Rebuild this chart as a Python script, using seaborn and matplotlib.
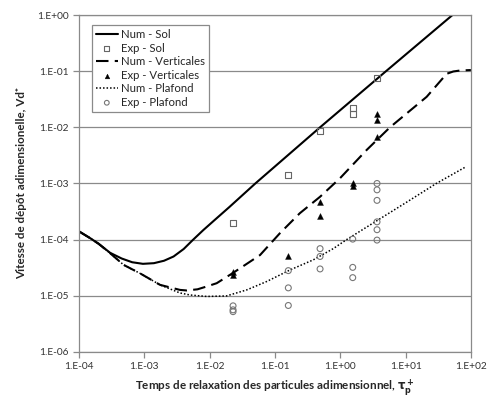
import matplotlib
matplotlib.use('Agg')
import matplotlib.pyplot as plt
import seaborn as sns

# courbes numériques
tau_sol = [1e-4, 1.5e-4, 2e-4, 3e-4, 4.5e-4, 6.5e-4, 9.5e-4, 1.4e-3, 2e-3, 2.8e-3,
           4e-3, 5.5e-3, 8e-3, 0.012, 0.02, 0.05, 0.489, 5.0, 52.0]
vd_sol = [1.4e-4, 1.05e-4, 8.4e-5, 5.8e-5, 4.6e-5, 3.95e-5, 3.7e-5, 3.8e-5, 4.2e-5, 5e-5,
          6.8e-5, 9.8e-5, 1.48e-4, 2.25e-4, 3.8e-4, 1e-3, 1e-2, 0.1, 1.0]

tau_vert = [1e-4, 1.5e-4, 2e-4, 3e-4, 4.8e-4, 8.6e-4, 1.74e-3, 3.5e-3, 4.45e-3, 6.5e-3,
            9e-3, 0.0128, 0.0228, 0.059, 0.119, 0.24, 0.49, 0.99, 2.53, 5.75,
            21.0, 42.5, 53.7, 68.0, 100.0]
vd_vert = [1.4e-4, 1.05e-4, 8.4e-5, 5.7e-5, 3.55e-5, 2.5e-5, 1.56e-5, 1.27e-5, 1.24e-5, 1.3e-5,
           1.46e-5, 1.67e-5, 2.55e-5, 5.3e-5, 1.3e-4, 2.95e-4, 5.8e-4, 1.24e-3, 3.95e-3, 1e-2,
           0.035, 0.09, 0.099, 0.103, 0.105]

tau_plaf = [1e-4, 1.5e-4, 2e-4, 3e-4, 4.8e-4, 8.6e-4, 1.74e-3, 3.5e-3, 5e-3, 9e-3,
            0.018, 0.037, 0.0746, 0.17, 0.385, 0.78, 1.25, 4.05, 10.4, 29.5, 81.0]
vd_plaf = [1.4e-4, 1.05e-4, 8.4e-5, 5.7e-5, 3.55e-5, 2.5e-5, 1.56e-5, 1.12e-5, 1.03e-5, 9.7e-6,
           9.9e-6, 1.27e-5, 1.79e-5, 2.88e-5, 4.35e-5, 6.9e-5, 1e-4, 2.35e-4, 4.65e-4, 1e-3, 1.94e-3]

# points expérimentaux
tau_exp_sol = [0.0228, 0.16, 0.49, 1.55, 1.55, 3.65]
vd_exp_sol = [2e-4, 1.42e-3, 8.7e-3, 0.0222, 0.0175, 0.0746]

tau_exp_vert = [0.0228, 0.0228, 0.16, 0.49, 0.49, 1.55, 1.55, 3.65, 3.65, 3.65]
vd_exp_vert = [2.3e-5, 2.6e-5, 5e-5, 4.6e-4, 2.6e-4, 1.0e-3, 9e-4, 0.0173, 0.0135, 6.8e-3]

tau_exp_plaf = [0.0228, 0.0228, 0.0228, 0.16, 0.16, 0.16, 0.49, 0.49, 0.49,
                1.55, 1.55, 1.55, 3.65, 3.65, 3.65, 3.65, 3.65, 3.65]
vd_exp_plaf = [6.6e-6, 5.6e-6, 5.2e-6, 2.8e-5, 1.38e-5, 6.7e-6, 6.9e-5, 5e-5, 3e-5,
               1.02e-4, 3.2e-5, 2.1e-5, 1e-3, 7.7e-4, 5e-4, 2.07e-4, 1.5e-4, 9.8e-5]

xticks = [1e-4, 1e-3, 1e-2, 1e-1, 1e0, 1e1, 1e2]
xlabels = ['1.E-04', '1.E-03', '1.E-02', '1.E-01', '1.E+00', '1.E+01', '1.E+02']
yticks = [1e-6, 1e-5, 1e-4, 1e-3, 1e-2, 1e-1, 1e0]
ylabels = ['1.E-06', '1.E-05', '1.E-04', '1.E-03', '1.E-02', '1.E-01', '1.E+00']

sns.set_style('white')
plt.rcParams['font.family'] = ['Lato', 'DejaVu Sans']
plt.rcParams['mathtext.fontset'] = 'dejavusans'

fig = plt.figure(figsize=(4.88, 3.98), dpi=100)
ax = fig.add_axes([0.162, 0.116, 0.803, 0.846])
ax.set_xscale('log')
ax.set_yscale('log')

grey = '#8a8a8a'
ax.grid(True, axis='y', color=grey, lw=0.9, zorder=0)
ax.set_axisbelow(True)

sns.lineplot(x=tau_sol, y=vd_sol, ax=ax, color='black', lw=1.5, sort=False,
             label='Num - Sol')
sns.scatterplot(x=tau_exp_sol, y=vd_exp_sol, ax=ax, marker='s', s=20,
                facecolor='none', edgecolor='#666666', linewidth=0.8, label='Exp - Sol', zorder=4)
sns.lineplot(x=tau_vert, y=vd_vert, ax=ax, color='black', lw=1.5, sort=False,
             linestyle=(0, (6, 3)), label='Num - Verticales')
sns.scatterplot(x=tau_exp_vert, y=vd_exp_vert, ax=ax, marker='^', s=18,
                color='black', edgecolor='black', linewidth=0.3, label='Exp - Verticales', zorder=4)
sns.lineplot(x=tau_plaf, y=vd_plaf, ax=ax, color='black', lw=1.1, sort=False,
             linestyle=(0, (1, 1.3)), label='Num - Plafond')
sns.scatterplot(x=tau_exp_plaf, y=vd_exp_plaf, ax=ax, marker='o', s=18,
                facecolor='none', edgecolor='#777777', linewidth=0.8, label='Exp - Plafond', zorder=4)

ax.set_xlim(1e-4, 1e2)
ax.set_ylim(1e-6, 1e0)
ax.set_xticks(xticks, xlabels)
ax.set_yticks(yticks, ylabels)
ax.minorticks_off()
ax.tick_params(axis='both', which='major', labelsize=7.3, colors='#333333',
               length=4, width=0.9, direction='out', bottom=True, left=True)
ax.tick_params(axis='both', color=grey)
for sp in ax.spines.values():
    sp.set_color(grey)
    sp.set_linewidth(0.9)

ax.set_xlabel('Temps de relaxation des particules adimensionnel, $\\mathbf{\\tau_p^+}$',
              fontsize=8.4, fontweight='bold', labelpad=4)
ax.set_ylabel('Vitesse de dépôt adimensionelle, Vd\u207a',
              fontsize=8.4, fontweight='bold', labelpad=7)

leg = ax.legend(loc='upper left', bbox_to_anchor=(0.033, 0.97), borderaxespad=0,
                fontsize=8.2, frameon=True, fancybox=False, framealpha=1,
                edgecolor=grey, handlelength=1.9, handletextpad=0.3, markerscale=0.8,
                borderpad=0.35, labelspacing=0.22)
leg.get_frame().set_linewidth(0.9)

fig.savefig('out.png', dpi=100)
